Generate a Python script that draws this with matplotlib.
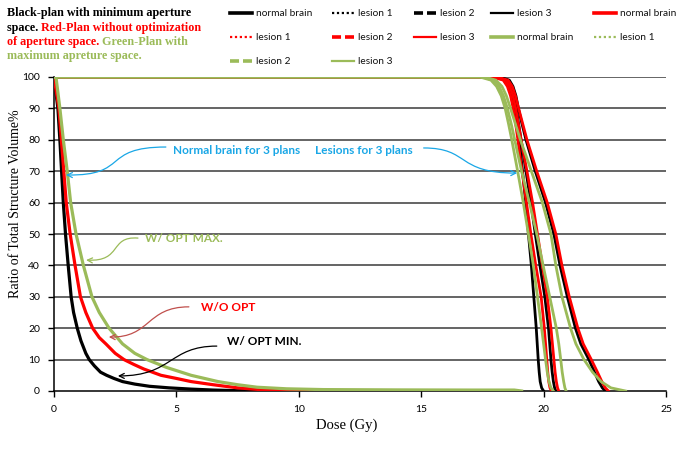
import matplotlib
matplotlib.use("Agg")
import matplotlib.pyplot as plt
from matplotlib.lines import Line2D
from matplotlib.patches import FancyArrowPatch
from matplotlib.path import Path

# ---- data (dose in Gy, volume in %) ----
nb_black_dose = [0, 0.08, 0.16, 0.24, 0.31, 0.38, 0.47, 0.58, 0.7, 0.8, 0.95, 1.1, 1.3, 1.44, 1.65, 1.9,
                 2.15, 2.45, 2.8, 3.3, 3.9, 4.7, 5.6, 6.5, 7.5, 10]
nb_black_vol = [100, 95, 90, 80, 70, 60, 50, 40, 30, 25, 20, 16, 12, 10, 8, 6,
                5, 4, 3, 2.2, 1.5, 1, 0.6, 0.3, 0.1, 0]
nb_red_dose = [0, 0.1, 0.2, 0.3, 0.4, 0.5, 0.66, 0.86, 1.08, 1.3, 1.58, 1.85, 2.12, 2.5, 2.86, 3.25,
               3.67, 4.37, 5.0, 5.6, 6.5, 7.5, 8.5, 10, 11]
nb_red_vol = [100, 95, 90, 80, 70, 60, 50, 40, 30, 25, 20, 17, 15, 12, 10, 8.5,
              7, 5, 4, 3, 2, 1, 0.4, 0.1, 0]
nb_green_dose = [0, 0.08, 0.24, 0.38, 0.54, 0.68, 0.9, 1.2, 1.55, 1.85, 2.25, 2.8, 3.3, 3.8, 4.6, 5.6,
                 6.7, 7.5, 8.3, 9.5, 11, 14, 17, 18.8, 19.1]
nb_green_vol = [100, 100, 90, 80, 70, 60, 50, 40, 30, 25, 20, 15, 12, 10, 7.5, 5,
                3, 2, 1.2, 0.7, 0.45, 0.35, 0.3, 0.3, 0]

# lesion DVHs share the same volume levels
les_vol = [100, 100, 99, 97, 94, 90, 85, 80, 75, 70, 60, 50, 40, 30, 20, 15, 10, 6, 3, 1, 0]

black_l1 = [0, 18.0, 18.45, 18.6, 18.72, 18.82, 18.92, 19.0, 19.07, 19.14, 19.27, 19.38, 19.5, 19.6, 19.7,
            19.74, 19.78, 19.82, 19.86, 19.92, 20.0]
black_l2 = [0, 18.1, 18.5, 18.65, 18.77, 18.88, 18.98, 19.08, 19.18, 19.28, 19.48, 19.66, 19.85, 20.05, 20.2,
            20.25, 20.3, 20.35, 20.4, 20.45, 20.5]
black_l3 = [0, 18.2, 18.6, 18.75, 18.87, 18.97, 19.12, 19.28, 19.47, 19.66, 20.08, 20.42, 20.67, 20.97, 21.3,
            21.52, 21.85, 22.08, 22.25, 22.4, 22.52]
red_l1 = [0, 17.9, 18.35, 18.52, 18.65, 18.76, 18.86, 18.95, 19.03, 19.12, 19.3, 19.48, 19.68, 19.9, 20.03,
          20.08, 20.13, 20.17, 20.21, 20.26, 20.32]
red_l2 = [0, 18.0, 18.45, 18.62, 18.75, 18.86, 18.97, 19.08, 19.2, 19.32, 19.55, 19.75, 19.95, 20.15, 20.3,
          20.36, 20.42, 20.47, 20.52, 20.57, 20.62]
red_l3 = [0, 18.1, 18.55, 18.72, 18.85, 18.98, 19.15, 19.32, 19.52, 19.72, 20.15, 20.5, 20.75, 21.05, 21.4,
          21.62, 21.95, 22.2, 22.38, 22.52, 22.65]
green_l1 = [0, 17.4, 17.85, 18.08, 18.27, 18.43, 18.57, 18.7, 18.82, 18.94, 19.17, 19.38, 19.58, 19.75, 19.92,
            20.0, 20.08, 20.15, 20.22, 20.3, 20.4]
green_l2 = [0, 17.5, 17.95, 18.18, 18.36, 18.52, 18.68, 18.82, 18.96, 19.1, 19.42, 19.72, 19.98, 20.25, 20.52,
            20.62, 20.7, 20.76, 20.82, 20.87, 20.92]
green_l3 = [0, 17.6, 18.05, 18.3, 18.48, 18.65, 18.85, 19.05, 19.28, 19.5, 19.95, 20.3, 20.5, 20.75, 21.1,
            21.32, 21.65, 22.0, 22.35, 22.75, 23.35]

x_ticks = [0, 5, 10, 15, 20, 25]
y_ticks = [0, 10, 20, 30, 40, 50, 60, 70, 80, 90, 100]

BLACK = "#000000"
RED = "#ff0000"
GREEN = "#9bbb59"
CYAN = "#1aa7e6"

plt.rcParams["font.family"] = ["Lato", "DejaVu Sans"]

W, H = 685, 449
fig = plt.figure(figsize=(6.85, 4.49), dpi=100)
ax = fig.add_axes([54 / W, 1 - 391 / H, 612 / W, 314 / H])

for v in y_ticks[1:]:
    ax.axhline(v, color="#3a3a3a", lw=1.1, zorder=1)

nb_lw = 2.3
les_lw = 2.0
ax.plot(nb_black_dose, nb_black_vol, color=BLACK, lw=nb_lw, zorder=3)
ax.plot(black_l1, les_vol, color=BLACK, lw=les_lw, zorder=3)
ax.plot(black_l2, les_vol, color=BLACK, lw=les_lw, zorder=3)
ax.plot(black_l3, les_vol, color=BLACK, lw=les_lw, zorder=3)
ax.plot(nb_red_dose, nb_red_vol, color=RED, lw=nb_lw, zorder=4)
ax.plot(red_l1, les_vol, color=RED, lw=les_lw, zorder=4)
ax.plot(red_l2, les_vol, color=RED, lw=les_lw, zorder=4)
ax.plot(red_l3, les_vol, color=RED, lw=les_lw, zorder=4)
ax.plot(nb_green_dose, nb_green_vol, color=GREEN, lw=nb_lw, zorder=5)
ax.plot(green_l1, les_vol, color=GREEN, lw=les_lw, zorder=5)
ax.plot(green_l2, les_vol, color=GREEN, lw=les_lw, zorder=5)
ax.plot(green_l3, les_vol, color=GREEN, lw=les_lw, zorder=5)

ax.set_xlim(0, 25)
ax.set_ylim(0, 100)
ax.set_xticks(x_ticks)
ax.set_yticks(y_ticks)
ax.spines["top"].set_visible(False)
ax.spines["right"].set_visible(False)
ax.spines["left"].set_linewidth(1.1)
ax.spines["bottom"].set_linewidth(1.1)
ax.tick_params(axis="both", labelsize=7.5, length=4, width=1, direction="out", pad=6)
ax.set_xlabel("Dose (Gy)", family="Liberation Serif", fontsize=10.5)
ax.xaxis.set_label_coords((347 - 54) / 612, (391 - 419) / 314)
ax.set_ylabel("Ratio of Total Structure Volume%", family="Liberation Serif", fontsize=10)
ax.yaxis.set_label_coords((22 - 54) / 612, (391 - 204) / 314)


# s-shaped call-out arrows (cubic bezier, data coords)
def s_arrow(p0, p1, p2, p3, color):
    path = Path([p0, p1, p2, p3], [Path.MOVETO, Path.CURVE4, Path.CURVE4, Path.CURVE4])
    ax.add_patch(FancyArrowPatch(path=path, arrowstyle="->", mutation_scale=9,
                                 color=color, lw=0.9, zorder=6))


ann_font = dict(fontsize=8.5, fontweight="bold", va="center", ha="left", zorder=6)
ax.text(4.85, 76.7, "Normal brain for 3 plans", color=CYAN, **ann_font)
s_arrow((4.57, 77.7), (1.9, 77.7), (3.1, 68.5), (0.49, 68.8), CYAN)
ax.text(10.65, 76.7, "Lesions for 3 plans", color=CYAN, **ann_font)
s_arrow((15.1, 77.4), (17.0, 77.4), (16.4, 69.4), (18.92, 69.4), CYAN)
ax.text(3.7, 48.7, "W/ OPT MAX.", color=GREEN, **ann_font)
s_arrow((3.43, 48.7), (2.24, 49.4), (2.81, 41.1), (1.31, 41.7), GREEN)
ax.text(6.0, 26.7, "W/O OPT", color=RED, **ann_font)
s_arrow((5.51, 26.8), (3.75, 26.8), (3.96, 16.9), (2.24, 17.2), "#c0504d")
ax.text(7.05, 15.7, "W/ OPT MIN.", color=BLACK, **ann_font)
s_arrow((6.65, 14.3), (4.69, 14.3), (4.85, 4.8), (2.61, 4.8), BLACK)

# colored description block (top left)
desc_font = dict(family="Liberation Serif", fontsize=8.7, fontweight="bold")
desc_lines = [
    [("Black-plan with minimum aperture", BLACK)],
    [("space. ", BLACK), ("Red-Plan without optimization", RED)],
    [("of aperture space. ", RED), ("Green-Plan with", GREEN)],
    [("maximum apreture space.", GREEN)],
]
for i, parts in enumerate(desc_lines):
    y = 1 - (16 + i * 14.5) / H
    first = fig.text(7 / W, y, parts[0][0], color=parts[0][1], va="baseline", ha="left", **desc_font)
    for txt, col in parts[1:]:
        fig.canvas.draw()
        bb = first.get_window_extent()
        nxt = fig.text(0, 0, txt, color=col, va="bottom", ha="left", **desc_font)
        nxt.set_transform(matplotlib.transforms.IdentityTransform())
        nxt.set_position((bb.x1, bb.y0))

# legend placed by hand (row-major as in the reference)
leg_labels = ["normal brain", "lesion 1", "lesion 2", "lesion 3"]
leg_styles = [((0, None), 2.6), ((0, (1, 1.2)), 1.6), ((0, (2.5, 1.1)), 2.6), ((0, None), 1.6)]
leg_entries = []
for col in [BLACK, RED, GREEN]:
    for lab, (ls, lw) in zip(leg_labels, leg_styles):
        leg_entries.append((lab, col, "-" if ls[1] is None else ls, lw))
col_x = [230, 332, 414, 491, 594]
row_y = [13, 37, 61]
for k, (lab, col, ls, lw) in enumerate(leg_entries):
    r, c = divmod(k, 5)
    x0 = col_x[c]
    y0 = 1 - row_y[r] / H
    fig.add_artist(Line2D([x0 / W, (x0 + 22) / W], [y0, y0], color=col, ls=ls, lw=lw,
                          transform=fig.transFigure))
    fig.text((x0 + 26) / W, y0, lab, fontsize=7.3, va="center", ha="left", color="#111111")

fig.savefig("out.png", dpi=100)
